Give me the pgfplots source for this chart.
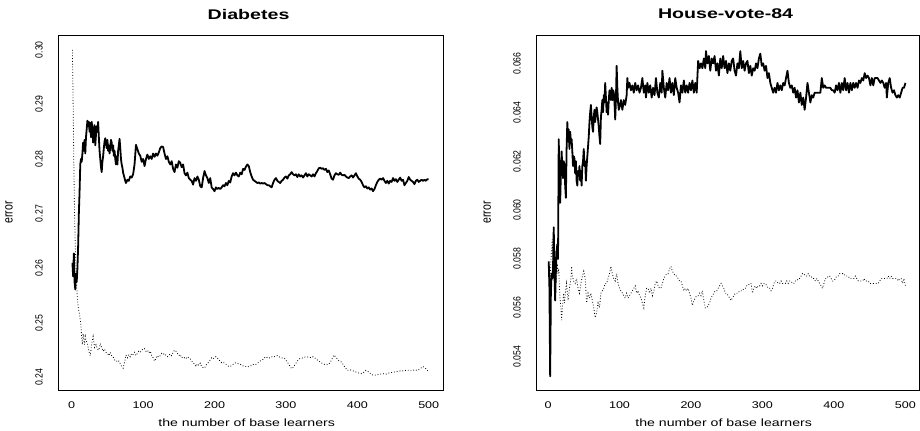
\documentclass[border=0pt]{standalone}
\usepackage{fontspec}
\setmainfont{Liberation Sans}
\usepackage{graphicx}
\usepackage{pgfplots}
\pgfplotsset{compat=1.18}
\newcommand\hs[2]{\scalebox{#1}[1]{#2}}
\newcommand\vs[2]{\scalebox{1}[#1]{#2}}
\begin{document}
\begin{tikzpicture}
\path[use as bounding box] (0,0) rectangle (690pt,322.5pt);
\pgfplotsset{rstyle/.style={
  scale only axis, height=266.25pt,
  axis line style={line width=0.7pt},
  major tick length=0pt, tick style={draw=none},
  scaled y ticks=false, scaled x ticks=false,
  every axis title shift=0pt,
  xtick={0,100,200,300,400,500},
  xticklabels={\hs{1.29}{0},\hs{1.29}{100},\hs{1.29}{200},\hs{1.29}{300},\hs{1.29}{400},\hs{1.29}{500}},
  xticklabel style={font=\fontsize{7.3}{8}\selectfont, inner sep=0pt, anchor=north},
  xticklabel shift=8.6pt,
  yticklabel style={font=\fontsize{6.5}{7}\selectfont, rotate=90, anchor=south, inner sep=0pt},
  yticklabel shift=11.3pt,
  title style={font=\bfseries\fontsize{10.5}{12}\selectfont, at={(axis description cs:0.495,1.059)}, anchor=center},
  xlabel style={font=\fontsize{7.9}{9}\selectfont, at={(axis description cs:0.49,-0.0915)}, anchor=center},
  ylabel style={font=\fontsize{7.9}{9}\selectfont, at={(axis description cs:-0.127,0.5)}, anchor=center},
  xlabel={\hs{1.34}{the number of base learners}},
  ylabel={\vs{1.3}{error}},
  solid/.style={black, line width=1.35pt, line join=round},
  dots/.style={black, line width=0.6pt, dash pattern=on 0.6pt off 1.5pt},
}}
\begin{axis}[rstyle, at={(43.5pt,30pt)}, anchor=south west, width=288.75pt,
  xmin=-19.2, xmax=520, ymin=0.2377, ymax=0.3027,
  ytick={0.24,0.25,0.26,0.27,0.28,0.29,0.30},
  yticklabels={\vs{1.2}{0.24},\vs{1.2}{0.25},\vs{1.2}{0.26},\vs{1.2}{0.27},\vs{1.2}{0.28},\vs{1.2}{0.29},\vs{1.2}{0.30}},
  title={\hs{1.4}{Diabetes}}]
\addplot[dots] coordinates {(1,0.3000)(2,0.2900)(3,0.2790)(4,0.2700)(5,0.2640)(6,0.2600)(7,0.2565)(8,0.2545)(9,0.2530)(10,0.2522)(11,0.2515)(12,0.2505)(13,0.2495)(14,0.2470)(15,0.2460)(16,0.2480)(17,0.2470)(18,0.2460)(19,0.2475)(20,0.2468)(22,0.2462)(24,0.2448)(26,0.2440)(28,0.2462)(30,0.2475)(32,0.2455)(34,0.2460)(36,0.2452)(38,0.2450)(40,0.2462)(42,0.2455)(44,0.2448)(46,0.2452)(48,0.2446)(50,0.2444)(52,0.2440)(54,0.2446)(56,0.2440)(58,0.2438)(60,0.2432)(62,0.2432)(64,0.2428)(66,0.2430)(68,0.2425)(70,0.2420)(72,0.2417)(74,0.2428)(76,0.2441)(78,0.2436)(80,0.2442)(82,0.2438)(84,0.2444)(86,0.2442)(88,0.2446)(90,0.2440)(92,0.2444)(94,0.2448)(96,0.2446)(98,0.2450)(100,0.2452)(102,0.2453)(104,0.2448)(106,0.2450)(108,0.2445)(110,0.2448)(112,0.2440)(114,0.2436)(116,0.2430)(118,0.2434)(120,0.2440)(122,0.2437)(124,0.2440)(126,0.2444)(128,0.2442)(130,0.2444)(132,0.2440)(134,0.2438)(136,0.2440)(138,0.2443)(140,0.2440)(142,0.2446)(144,0.2450)(146,0.2448)(148,0.2444)(150,0.2440)(152,0.2442)(154,0.2436)(156,0.2438)(158,0.2436)(160,0.2434)(162,0.2438)(164,0.2436)(166,0.2434)(168,0.2430)(170,0.2428)(172,0.2424)(174,0.2420)(176,0.2425)(178,0.2422)(180,0.2426)(182,0.2420)(184,0.2418)(186,0.2417)(188,0.2422)(190,0.2426)(192,0.2428)(194,0.2432)(196,0.2436)(198,0.2434)(200,0.2437)(202,0.2438)(204,0.2436)(206,0.2432)(208,0.2430)(210,0.2427)(212,0.2428)(214,0.2426)(216,0.2424)(218,0.2422)(220,0.2420)(222,0.2420)(224,0.2422)(226,0.2424)(228,0.2426)(230,0.2427)(232,0.2426)(234,0.2425)(236,0.2424)(238,0.2423)(240,0.2421)(242,0.2420)(244,0.2420)(246,0.2419)(248,0.2420)(250,0.2421)(252,0.2422)(254,0.2424)(256,0.2423)(258,0.2424)(260,0.2426)(262,0.2428)(264,0.2430)(266,0.2432)(268,0.2433)(270,0.2436)(272,0.2438)(274,0.2436)(276,0.2435)(278,0.2437)(280,0.2438)(282,0.2437)(284,0.2438)(286,0.2439)(288,0.2440)(290,0.2438)(292,0.2437)(294,0.2436)(296,0.2435)(298,0.2435)(300,0.2432)(302,0.2428)(304,0.2424)(306,0.2420)(308,0.2416)(310,0.2418)(312,0.2422)(314,0.2426)(316,0.2430)(318,0.2433)(320,0.2435)(324,0.2436)(328,0.2438)(332,0.2437)(336,0.2436)(338,0.2438)(340,0.2436)(344,0.2432)(348,0.2428)(352,0.2425)(356,0.2423)(360,0.2424)(364,0.2432)(367,0.2441)(370,0.2437)(374,0.2431)(378,0.2428)(382,0.2420)(386,0.2413)(390,0.2414)(394,0.2412)(398,0.2410)(402,0.2408)(406,0.2407)(410,0.2410)(412,0.2413)(416,0.2410)(420,0.2405)(424,0.2404)(428,0.2405)(432,0.2406)(436,0.2407)(440,0.2406)(444,0.2408)(448,0.2409)(452,0.2410)(456,0.2411)(460,0.2412)(464,0.2412)(468,0.2413)(472,0.2413)(476,0.2412)(480,0.2414)(484,0.2413)(488,0.2416)(492,0.2420)(496,0.2416)(500,0.2410)};
\addplot[solid] coordinates {(1,0.2610)(2,0.2585)(3,0.2627)(4,0.2575)(5,0.2561)(6,0.2590)(7,0.2575)(8,0.2600)(9,0.2640)(10,0.2700)(11,0.2740)(12,0.2790)(13,0.2800)(14,0.2795)(15,0.2810)(16,0.2830)(17,0.2815)(18,0.2835)(19,0.2810)(20,0.2840)(21,0.2855)(22,0.2870)(23,0.2860)(24,0.2868)(25,0.2850)(26,0.2866)(27,0.2840)(28,0.2868)(29,0.2855)(30,0.2830)(31,0.2850)(32,0.2862)(33,0.2825)(34,0.2845)(35,0.2860)(36,0.2850)(37,0.2868)(38,0.2840)(39,0.2815)(40,0.2800)(41,0.2785)(42,0.2776)(43,0.2795)(44,0.2805)(45,0.2820)(46,0.2832)(47,0.2838)(48,0.2830)(49,0.2820)(50,0.2835)(51,0.2815)(52,0.2825)(53,0.2810)(54,0.2822)(55,0.2835)(56,0.2830)(57,0.2815)(58,0.2825)(59,0.2806)(60,0.2815)(61,0.2800)(62,0.2790)(63,0.2805)(64,0.2790)(65,0.2815)(66,0.2825)(67,0.2837)(68,0.2820)(69,0.2800)(70,0.2790)(71,0.2784)(72,0.2775)(73,0.2770)(74,0.2765)(75,0.2760)(76,0.2756)(78,0.2762)(80,0.2760)(82,0.2768)(84,0.2766)(86,0.2772)(88,0.2790)(90,0.2826)(92,0.2818)(94,0.2810)(96,0.2806)(98,0.2795)(100,0.2800)(102,0.2787)(104,0.2800)(106,0.2808)(108,0.2800)(110,0.2805)(112,0.2800)(114,0.2810)(116,0.2804)(118,0.2810)(120,0.2806)(122,0.2812)(124,0.2820)(126,0.2823)(128,0.2822)(130,0.2810)(132,0.2800)(134,0.2805)(136,0.2795)(138,0.2790)(140,0.2796)(142,0.2782)(144,0.2776)(146,0.2790)(148,0.2784)(150,0.2796)(152,0.2793)(154,0.2785)(156,0.2790)(158,0.2774)(160,0.2770)(162,0.2775)(164,0.2765)(166,0.2762)(168,0.2760)(170,0.2753)(172,0.2765)(174,0.2760)(176,0.2768)(178,0.2762)(180,0.2750)(182,0.2748)(184,0.2765)(186,0.2778)(188,0.2770)(190,0.2765)(192,0.2756)(194,0.2765)(196,0.2748)(198,0.2745)(200,0.2741)(202,0.2748)(204,0.2745)(206,0.2747)(208,0.2745)(210,0.2748)(212,0.2752)(214,0.2750)(216,0.2756)(218,0.2752)(220,0.2760)(222,0.2757)(224,0.2768)(226,0.2774)(228,0.2770)(230,0.2775)(232,0.2770)(234,0.2768)(236,0.2775)(238,0.2772)(240,0.2782)(242,0.2780)(244,0.2786)(246,0.2790)(248,0.2787)(250,0.2776)(252,0.2768)(254,0.2762)(256,0.2760)(258,0.2758)(260,0.2756)(262,0.2757)(264,0.2755)(266,0.2756)(268,0.2755)(270,0.2756)(272,0.2754)(274,0.2752)(276,0.2752)(278,0.2750)(280,0.2748)(282,0.2756)(284,0.2762)(286,0.2765)(288,0.2760)(290,0.2758)(292,0.2756)(294,0.2760)(296,0.2762)(298,0.2766)(300,0.2768)(302,0.2764)(304,0.2770)(306,0.2772)(308,0.2776)(310,0.2772)(312,0.2770)(314,0.2772)(316,0.2767)(318,0.2772)(320,0.2768)(322,0.2770)(324,0.2766)(326,0.2770)(328,0.2774)(330,0.2768)(332,0.2772)(334,0.2770)(336,0.2768)(338,0.2772)(340,0.2768)(342,0.2774)(344,0.2778)(346,0.2783)(348,0.2784)(350,0.2782)(352,0.2783)(354,0.2780)(356,0.2782)(358,0.2776)(360,0.2779)(362,0.2772)(364,0.2764)(366,0.2762)(368,0.2770)(370,0.2774)(372,0.2772)(374,0.2771)(376,0.2775)(378,0.2771)(380,0.2770)(382,0.2771)(384,0.2768)(386,0.2766)(388,0.2765)(390,0.2768)(392,0.2770)(394,0.2766)(396,0.2770)(398,0.2774)(400,0.2768)(402,0.2764)(404,0.2762)(406,0.2758)(408,0.2752)(410,0.2748)(412,0.2750)(414,0.2746)(416,0.2748)(418,0.2744)(420,0.2746)(422,0.2741)(424,0.2745)(426,0.2752)(428,0.2758)(430,0.2762)(432,0.2764)(434,0.2762)(436,0.2765)(438,0.2760)(440,0.2756)(442,0.2760)(444,0.2755)(446,0.2760)(448,0.2758)(450,0.2765)(452,0.2760)(454,0.2763)(456,0.2758)(458,0.2762)(460,0.2766)(462,0.2760)(464,0.2762)(466,0.2752)(468,0.2756)(470,0.2760)(472,0.2767)(474,0.2762)(476,0.2760)(478,0.2758)(480,0.2754)(482,0.2760)(484,0.2762)(486,0.2758)(488,0.2760)(490,0.2762)(492,0.2760)(494,0.2762)(496,0.2760)(498,0.2763)(500,0.2763)};
\end{axis}
\begin{axis}[rstyle, at={(402pt,30pt)}, anchor=south west, width=287.25pt,
  xmin=-16.8, xmax=519, ymin=0.05264, ymax=0.06716,
  ytick={0.054,0.056,0.058,0.060,0.062,0.064,0.066},
  yticklabels={\vs{1.2}{0.054},\vs{1.2}{0.056},\vs{1.2}{0.058},\vs{1.2}{0.060},\vs{1.2}{0.062},\vs{1.2}{0.064},\vs{1.2}{0.066}},
  title={\hs{1.4}{House-vote-84}}]
\addplot[dots] coordinates {(1,0.0578)(2,0.0568)(3,0.0570)(4,0.0579)(5,0.0584)(6,0.0588)(7,0.0580)(8,0.0575)(9,0.0572)(10,0.0578)(11,0.0570)(12,0.0575)(13,0.0578)(14,0.0574)(15,0.0576)(16,0.0568)(17,0.0563)(18,0.0560)(19,0.0555)(20,0.0560)(21,0.0563)(22,0.0566)(23,0.0562)(24,0.0565)(25,0.0568)(26,0.0570)(27,0.0566)(28,0.0563)(30,0.0568)(32,0.0572)(33,0.0577)(34,0.0573)(36,0.0571)(38,0.0570)(40,0.0572)(42,0.0568)(44,0.0566)(46,0.0570)(48,0.0573)(50,0.0575)(52,0.0572)(54,0.0562)(56,0.0566)(58,0.0564)(60,0.0566)(62,0.0563)(64,0.0560)(66,0.0556)(68,0.0558)(70,0.0562)(72,0.0560)(74,0.0566)(76,0.0567)(78,0.0568)(80,0.0570)(82,0.0570)(84,0.0572)(86,0.0574)(88,0.0577)(90,0.0574)(92,0.0572)(94,0.0571)(96,0.0574)(98,0.0570)(100,0.0568)(102,0.0567)(104,0.0566)(106,0.0565)(108,0.0564)(110,0.0566)(112,0.0564)(114,0.0565)(116,0.0566)(118,0.0567)(120,0.0568)(122,0.0569)(124,0.0566)(126,0.0567)(128,0.0565)(130,0.0564)(132,0.0562)(134,0.0560)(136,0.0565)(138,0.0568)(140,0.0568)(142,0.0566)(144,0.0568)(146,0.0565)(148,0.0567)(150,0.0570)(152,0.0571)(154,0.0569)(156,0.0568)(158,0.0568)(160,0.0570)(162,0.0572)(164,0.0573)(166,0.0574)(168,0.0574)(170,0.0576)(172,0.0577)(174,0.0575)(176,0.0574)(178,0.0573)(180,0.0573)(182,0.0572)(184,0.0571)(186,0.0571)(188,0.0569)(190,0.0567)(192,0.0568)(194,0.0567)(196,0.0568)(198,0.0566)(200,0.0564)(202,0.0561)(204,0.0563)(206,0.0564)(208,0.0565)(210,0.0565)(212,0.0566)(214,0.0565)(216,0.0567)(218,0.0563)(220,0.0560)(222,0.0560)(224,0.0561)(226,0.0562)(228,0.0564)(230,0.0565)(232,0.0566)(234,0.0567)(236,0.0567)(238,0.0568)(240,0.0569)(242,0.0570)(244,0.0569)(246,0.0568)(248,0.0566)(250,0.0566)(252,0.0565)(254,0.0564)(256,0.0563)(258,0.0564)(260,0.0565)(262,0.0566)(264,0.0566)(266,0.0566)(268,0.0567)(270,0.0567)(272,0.0567)(274,0.0568)(276,0.0568)(278,0.0569)(280,0.0569)(282,0.0570)(284,0.0570)(286,0.0566)(288,0.0568)(290,0.0569)(292,0.0568)(294,0.0569)(296,0.0569)(298,0.0570)(300,0.0569)(302,0.0570)(304,0.0570)(306,0.0569)(308,0.0568)(310,0.0568)(312,0.0567)(314,0.0568)(316,0.0570)(318,0.0571)(320,0.0571)(322,0.0570)(324,0.0570)(326,0.0571)(328,0.0570)(330,0.0570)(332,0.0570)(334,0.0571)(336,0.0570)(338,0.0571)(340,0.0571)(342,0.0570)(344,0.0570)(346,0.0571)(348,0.0571)(350,0.0572)(352,0.0572)(354,0.0573)(356,0.0574)(358,0.0574)(360,0.0573)(362,0.0573)(364,0.0574)(366,0.0573)(368,0.0573)(370,0.0572)(372,0.0572)(374,0.0571)(376,0.0572)(378,0.0571)(380,0.0570)(382,0.0569)(384,0.0568)(386,0.0570)(388,0.0572)(390,0.0572)(392,0.0573)(394,0.0573)(396,0.0572)(398,0.0571)(400,0.0571)(402,0.0572)(404,0.0573)(406,0.0573)(408,0.0574)(410,0.0574)(412,0.0574)(414,0.0574)(416,0.0573)(418,0.0573)(420,0.0573)(422,0.0572)(424,0.0572)(426,0.0572)(428,0.0572)(430,0.0573)(432,0.0572)(434,0.0571)(436,0.0571)(438,0.0571)(440,0.0571)(442,0.0572)(444,0.0571)(446,0.0571)(448,0.0571)(450,0.0570)(452,0.0570)(454,0.0570)(456,0.0570)(458,0.0570)(460,0.0570)(462,0.0570)(464,0.0571)(466,0.0572)(468,0.0572)(470,0.0572)(472,0.0572)(474,0.0572)(476,0.0573)(478,0.0572)(480,0.0573)(482,0.0572)(484,0.0572)(486,0.0572)(488,0.0572)(490,0.0571)(492,0.0572)(494,0.0572)(496,0.0570)(498,0.0572)(500,0.0569)};
\addplot[solid] coordinates {(1,0.0579)(2,0.0568)(3,0.0532)(4,0.0566)(5,0.0574)(6,0.0572)(7,0.0576)(8,0.0593)(9,0.0574)(10,0.0563)(11,0.0575)(12,0.0583)(13,0.0586)(14,0.0580)(15,0.0629)(16,0.0612)(17,0.0603)(18,0.0615)(19,0.0624)(20,0.0618)(21,0.0613)(22,0.0620)(23,0.0618)(24,0.0610)(25,0.0605)(26,0.0625)(27,0.0636)(28,0.0628)(29,0.0633)(30,0.0625)(31,0.0632)(32,0.0628)(33,0.0629)(34,0.0624)(35,0.0618)(36,0.0622)(37,0.0621)(38,0.0615)(39,0.0620)(40,0.0612)(41,0.0610)(42,0.0616)(43,0.0614)(44,0.0618)(45,0.0612)(46,0.0616)(47,0.0610)(48,0.0618)(49,0.0620)(50,0.0625)(51,0.0618)(52,0.0620)(53,0.0612)(54,0.0618)(55,0.0622)(56,0.0626)(57,0.0630)(58,0.0636)(59,0.0640)(60,0.0643)(61,0.0638)(62,0.0634)(63,0.0632)(64,0.0638)(65,0.0641)(66,0.0636)(67,0.0640)(68,0.0642)(69,0.0640)(70,0.0637)(71,0.0634)(72,0.0630)(73,0.0627)(74,0.0638)(75,0.0641)(76,0.0645)(77,0.0640)(78,0.0647)(79,0.0644)(80,0.0652)(81,0.0646)(82,0.0640)(83,0.0644)(84,0.0639)(85,0.0645)(86,0.0649)(87,0.0647)(88,0.0645)(89,0.0650)(90,0.0645)(91,0.0649)(92,0.0648)(93,0.0644)(94,0.0637)(95,0.0645)(96,0.0659)(97,0.0650)(98,0.0644)(99,0.0641)(100,0.0642)(102,0.0645)(104,0.0641)(106,0.0645)(108,0.0643)(110,0.0647)(111,0.0654)(112,0.0650)(114,0.0652)(116,0.0649)(118,0.0651)(120,0.0648)(122,0.0652)(124,0.0649)(126,0.0651)(128,0.0648)(130,0.0650)(132,0.0654)(134,0.0648)(136,0.0651)(137,0.0646)(139,0.0652)(141,0.0648)(143,0.0651)(145,0.0646)(147,0.0650)(149,0.0647)(151,0.0654)(153,0.0648)(155,0.0646)(157,0.0652)(159,0.0648)(160,0.0657)(162,0.0650)(164,0.0646)(166,0.0652)(168,0.0649)(170,0.0654)(172,0.0648)(174,0.0652)(176,0.0647)(178,0.0654)(180,0.0650)(182,0.0648)(184,0.0644)(186,0.0651)(188,0.0648)(190,0.0653)(192,0.0648)(194,0.0651)(196,0.0648)(198,0.0652)(200,0.0649)(202,0.0653)(204,0.0648)(206,0.0652)(208,0.0648)(210,0.0661)(212,0.0658)(214,0.0660)(216,0.0658)(218,0.0662)(220,0.0658)(221,0.0665)(223,0.0660)(225,0.0663)(227,0.0657)(229,0.0662)(231,0.0660)(233,0.0663)(235,0.0657)(237,0.0660)(239,0.0655)(241,0.0662)(243,0.0658)(245,0.0663)(247,0.0658)(249,0.0661)(251,0.0656)(253,0.0660)(255,0.0657)(257,0.0661)(259,0.0662)(261,0.0657)(263,0.0655)(265,0.0660)(267,0.0658)(269,0.0665)(271,0.0658)(273,0.0661)(275,0.0657)(277,0.0660)(279,0.0661)(281,0.0656)(283,0.0659)(285,0.0655)(287,0.0658)(289,0.0657)(291,0.0660)(293,0.0658)(295,0.0662)(297,0.0664)(299,0.0659)(301,0.0660)(303,0.0657)(305,0.0659)(307,0.0654)(309,0.0656)(311,0.0652)(313,0.0650)(315,0.0648)(317,0.0650)(319,0.0648)(321,0.0652)(323,0.0649)(325,0.0651)(327,0.0649)(329,0.0652)(331,0.0651)(333,0.0654)(335,0.0657)(337,0.0652)(339,0.0650)(341,0.0651)(343,0.0648)(345,0.0650)(347,0.0646)(349,0.0649)(351,0.0644)(353,0.0648)(355,0.0643)(357,0.0646)(359,0.0641)(361,0.0646)(363,0.0652)(365,0.0648)(367,0.0644)(369,0.0647)(371,0.0646)(373,0.0648)(375,0.0648)(377,0.0648)(379,0.0648)(381,0.0648)(383,0.0654)(385,0.0650)(387,0.0651)(389,0.0650)(391,0.0650)(393,0.0650)(395,0.0650)(397,0.0649)(399,0.0649)(401,0.0648)(403,0.0651)(405,0.0649)(407,0.0652)(409,0.0648)(411,0.0652)(413,0.0649)(415,0.0654)(417,0.0649)(419,0.0652)(421,0.0648)(423,0.0652)(425,0.0649)(427,0.0652)(429,0.0650)(431,0.0652)(433,0.0650)(435,0.0653)(437,0.0652)(439,0.0654)(441,0.0653)(443,0.0656)(445,0.0654)(447,0.0655)(449,0.0654)(451,0.0651)(453,0.0654)(455,0.0651)(457,0.0654)(459,0.0654)(461,0.0654)(463,0.0653)(465,0.0652)(467,0.0653)(469,0.0652)(471,0.0650)(473,0.0652)(474,0.0646)(476,0.0652)(478,0.0654)(480,0.0650)(482,0.0648)(484,0.0649)(486,0.0647)(488,0.0646)(490,0.0647)(492,0.0646)(494,0.0648)(496,0.0650)(498,0.0650)(500,0.0652)};
\end{axis}
\end{tikzpicture}
\end{document}
